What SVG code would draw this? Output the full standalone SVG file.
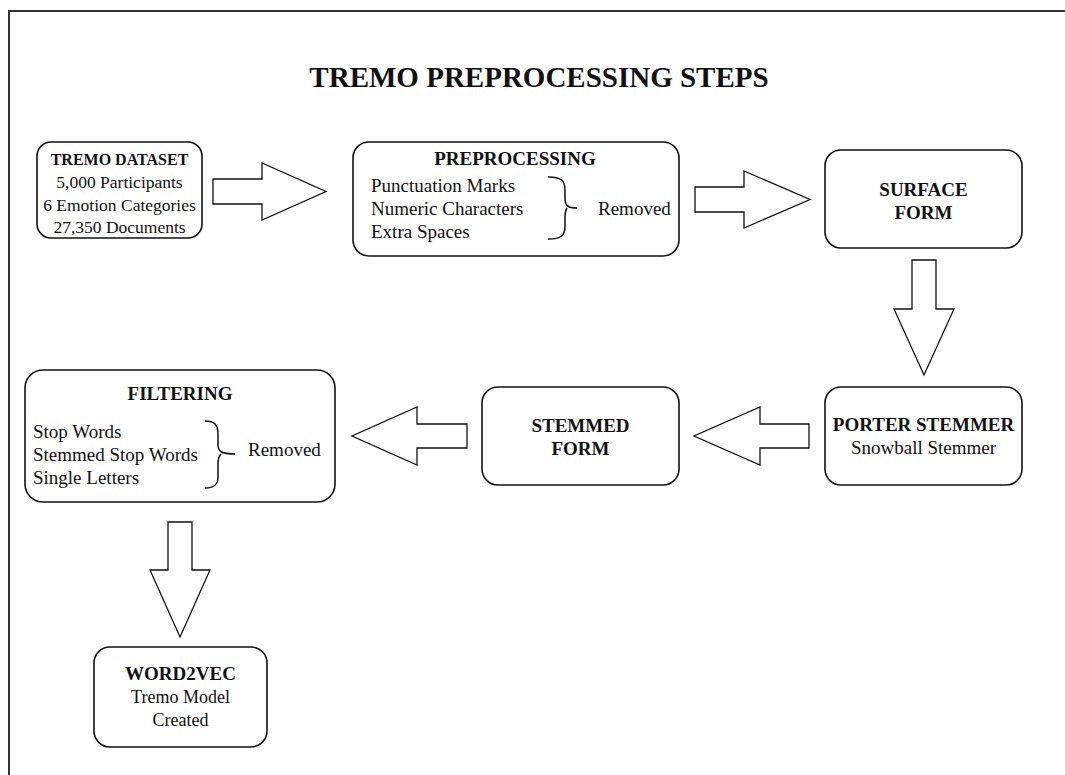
<svg xmlns="http://www.w3.org/2000/svg" width="1065" height="775" viewBox="0 0 1065 775">
<style>
  .box{fill:#fff;stroke:#111;stroke-width:1.6}
  .arr{fill:#fff;stroke:#111;stroke-width:1.3;stroke-linejoin:miter}
  .brace{fill:none;stroke:#111;stroke-width:1.5}
  text{font-family:"Liberation Serif","Times New Roman",serif;fill:#111}
  .t{font-weight:bold;font-size:19px;text-anchor:middle}
  .b{font-size:19px}
  .c{text-anchor:middle}
</style>
<rect width="1065" height="775" fill="#fff"/>
<path d="M9,775 L9,11 L1065,11" fill="none" stroke="#333" stroke-width="2"/>
<text x="539" y="87" font-size="29" font-weight="bold" text-anchor="middle">TREMO PREPROCESSING STEPS</text>

<g id="connectors">
  <polygon class="arr" points="213,179 262,179 262,163 326,191.5 262,220 262,204 213,204"/>
  <polygon class="arr" points="695,187 744,187 744,171 810,199.5 744,228 744,212 695,212"/>
  <polygon class="arr" points="912,260 936,260 936,309 954,309 924,375 894,309 912,309"/>
  <polygon class="arr" points="809,424 760,424 760,407 694,436 760,465 760,448 809,448"/>
  <polygon class="arr" points="467,424 417,424 417,407 352,436 417,465 417,448 467,448"/>
  <polygon class="arr" points="168,522 192,522 192,570 210,570 180,637 150,570 168,570"/>
</g>

<g id="tremo-dataset">
  <rect class="box" x="37" y="142" width="165" height="96" rx="14"/>
  <text x="119.5" y="165" font-size="16" font-weight="bold" text-anchor="middle">TREMO DATASET</text>
  <text x="119.5" y="188" font-size="17.5" text-anchor="middle">5,000 Participants</text>
  <text x="119.5" y="211" font-size="17.5" text-anchor="middle">6 Emotion Categories</text>
  <text x="119.5" y="233" font-size="17.5" text-anchor="middle">27,350 Documents</text>
</g>

<g id="preprocessing">
  <rect class="box" x="353" y="142" width="326" height="114" rx="16"/>
  <text class="t" x="515" y="165">PREPROCESSING</text>
  <text class="b" x="371" y="192">Punctuation Marks</text>
  <text class="b" x="371" y="215">Numeric Characters</text>
  <text class="b" x="371" y="238">Extra Spaces</text>
  <path class="brace" d="M548,177 C561,177 565,180 565,190 L565,198 C565,205 567,208 577,208 M567,208 C565,211 565,214 565,218 L565,226 C565,236 561,239 548,239"/>
  <text class="b" x="598" y="215">Removed</text>
</g>

<g id="surface-form">
  <rect class="box" x="825" y="150" width="197" height="98" rx="16"/>
  <text class="t" x="923.5" y="196">SURFACE</text>
  <text class="t" x="923.5" y="219">FORM</text>
</g>

<g id="porter-stemmer">
  <rect class="box" x="825" y="387" width="197" height="98" rx="16"/>
  <text class="t" x="923.5" y="431">PORTER STEMMER</text>
  <text class="b c" x="923.5" y="454">Snowball Stemmer</text>
</g>

<g id="stemmed-form">
  <rect class="box" x="482" y="387" width="197" height="98" rx="16"/>
  <text class="t" x="580.5" y="432">STEMMED</text>
  <text class="t" x="580.5" y="455">FORM</text>
</g>

<g id="filtering">
  <rect class="box" x="25" y="370" width="310" height="132" rx="18"/>
  <text class="t" x="180" y="400">FILTERING</text>
  <text class="b" x="33" y="438">Stop Words</text>
  <text class="b" x="33" y="461">Stemmed Stop Words</text>
  <text class="b" x="33" y="484">Single Letters</text>
  <path class="brace" d="M205,421 C214,421 218,424 218,434 L218,445 C218,451 221,454 235,454 M221,454 C218,457 218,460 218,464 L218,477 C218,485 214,488 205,488"/>
  <text class="b" x="248" y="456">Removed</text>
</g>

<g id="word2vec">
  <rect class="box" x="94" y="647" width="173" height="100" rx="16"/>
  <text class="t" x="180.5" y="680">WORD2VEC</text>
  <text x="180.5" y="703" font-size="18" text-anchor="middle">Tremo Model</text>
  <text x="180.5" y="726" font-size="18" text-anchor="middle">Created</text>
</g>
</svg>
